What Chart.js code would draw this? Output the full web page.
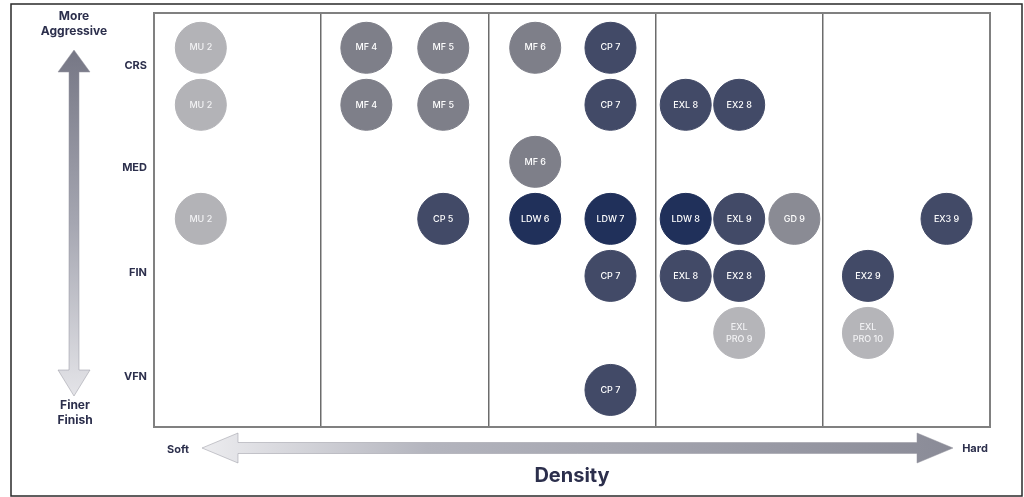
<!DOCTYPE html>
<html>
<head>
<meta charset="utf-8">
<script src="https://cdn.jsdelivr.net/npm/chart.js@4.4.1/dist/chart.umd.min.js"></script>
<style>
  html, body { margin: 0; padding: 0; background: #fff; }
  #wrap { width: 1024px; height: 497px; }
</style>
</head>
<body>
<div id="wrap"><canvas id="chart" width="1024" height="497"></canvas></div>
<script>
// grit rows (7 = coarsest at the top) and density columns (0..5)
const yTickValues = [6.68, 4.89, 3.05, 1.23];
const yTickLabels = ['CRS', 'MED', 'FIN', 'VFN'];

const names   = ['MU 2', 'MF 4', 'MF 5', 'MF 6', 'CP 7',
                 'MU 2', 'MF 4', 'MF 5', 'CP 7', 'EXL 8', 'EX2 8',
                 'MF 6',
                 'MU 2', 'CP 5', 'LDW 6', 'LDW 7', 'LDW 8', 'EXL 9', 'GD 9', 'EX3 9',
                 'CP 7', 'EXL 8', 'EX2 8', 'EX2 9',
                 'EXL\nPRO 9', 'EXL\nPRO 10',
                 'CP 7'];
const density = [0.28, 1.27, 1.73, 2.28, 2.73,
                 0.28, 1.27, 1.73, 2.73, 3.18, 3.50,
                 2.28,
                 0.28, 1.73, 2.28, 2.73, 3.18, 3.50, 3.83, 4.74,
                 2.73, 3.18, 3.50, 4.27,
                 3.50, 4.27,
                 2.73];
const grit    = [7, 7, 7, 7, 7,
                 6, 6, 6, 6, 6, 6,
                 5,
                 4, 4, 4, 4, 4, 4, 4, 4,
                 3, 3, 3, 3,
                 2, 2,
                 1];
const family  = ['MU', 'MF', 'MF', 'MF', 'CP',
                 'MU', 'MF', 'MF', 'CP', 'CP', 'CP',
                 'MF',
                 'MU', 'CP', 'LDW', 'LDW', 'LDW', 'CP', 'GD', 'CP',
                 'CP', 'CP', 'CP', 'CP',
                 'PRO', 'PRO',
                 'CP'];

const families = ['MU', 'MF', 'GD', 'CP', 'LDW', 'PRO'];
const familyColors = {
    MU: '#b3b3b7',
    MF: '#7e7f89',
    GD: '#8a8b94',
    CP: '#424a67',
    LDW: '#20305a',
    PRO: '#b5b5b9',
};

const datasets = families.map(f => {
    const pts = [];
    const labels = [];
    names.forEach((n, i) => {
        if (family[i] !== f) return;
        pts.push({ x: density[i], y: grit[i] });
        labels.push(n);
    });
    return {
        label: f,
        data: pts,
        bubbleLabels: labels,
        backgroundColor: familyColors[f],
        borderColor: familyColors[f],
        borderWidth: 1,
        pointRadius: 25.5,
        pointHoverRadius: 25.5,
        clip: false,
    };
});

const inkColor = '#2c2f4c';
const fontFam = "Inter, 'Noto Sans', sans-serif";

// text inside each circle
const bubbleText = {
    id: 'bubbleText',
    afterDatasetsDraw(chart) {
        const ctx = chart.ctx;
        ctx.save();
        ctx.textAlign = 'center';
        ctx.textBaseline = 'middle';
        ctx.font = `500 9px ${fontFam}`;
        chart.data.datasets.forEach((ds, di) => {
            const meta = chart.getDatasetMeta(di);
            meta.data.forEach((pt, j) => {
                const lines = ds.bubbleLabels[j].split('\n');
                ctx.fillStyle = (ds.label === 'MU' || ds.label === 'PRO') ? '#f2f2f4' : '#ffffff';
                const lh = 12;
                lines.forEach((ln, k) => {
                    ctx.fillText(ln, pt.x, pt.y + (k - (lines.length - 1) / 2) * lh);
                });
            });
        });
        ctx.restore();
    },
};

// plot frame, outer border, arrows and axis words
const decorations = {
    id: 'decorations',
    beforeDraw(chart) {
        const ctx = chart.ctx;
        ctx.save();
        ctx.fillStyle = '#fff';
        ctx.fillRect(0, 0, chart.width, chart.height);
        ctx.restore();
    },
    afterDraw(chart) {
        const ctx = chart.ctx;
        const a = chart.chartArea;
        ctx.save();

        ctx.strokeStyle = '#808080';
        ctx.lineWidth = 2;
        ctx.strokeRect(a.left, a.top, a.right - a.left, a.bottom - a.top);

        ctx.strokeStyle = '#2a2a2a';
        ctx.lineWidth = 1.5;
        ctx.strokeRect(11, 4, 1011, 492);

        // vertical arrow
        const vx = 74;
        let g = ctx.createLinearGradient(0, 50, 0, 396);
        g.addColorStop(0, '#767785');
        g.addColorStop(0.5, '#a5a6b1');
        g.addColorStop(1, '#e4e4e8');
        ctx.fillStyle = g;
        ctx.beginPath();
        ctx.moveTo(vx, 50);
        ctx.lineTo(vx + 16, 72);
        ctx.lineTo(vx + 5, 72);
        ctx.lineTo(vx + 5, 370);
        ctx.lineTo(vx + 16, 370);
        ctx.lineTo(vx, 396);
        ctx.lineTo(vx - 16, 370);
        ctx.lineTo(vx - 5, 370);
        ctx.lineTo(vx - 5, 72);
        ctx.lineTo(vx - 16, 72);
        ctx.closePath();
        ctx.fill();
        ctx.strokeStyle = 'rgba(150,150,160,0.5)';
        ctx.lineWidth = 1;
        ctx.stroke();

        // horizontal arrow
        const hy = 448;
        g = ctx.createLinearGradient(202, 0, 953, 0);
        g.addColorStop(0, '#ececef');
        g.addColorStop(0.3, '#b4b5be');
        g.addColorStop(1, '#8a8b97');
        ctx.fillStyle = g;
        ctx.beginPath();
        ctx.moveTo(202, hy);
        ctx.lineTo(238, hy - 15);
        ctx.lineTo(238, hy - 5.5);
        ctx.lineTo(917, hy - 5.5);
        ctx.lineTo(917, hy - 15);
        ctx.lineTo(953, hy);
        ctx.lineTo(917, hy + 15);
        ctx.lineTo(917, hy + 5.5);
        ctx.lineTo(238, hy + 5.5);
        ctx.lineTo(238, hy + 15);
        ctx.closePath();
        ctx.fill();
        ctx.stroke();

        ctx.fillStyle = inkColor;
        ctx.textAlign = 'center';
        ctx.textBaseline = 'middle';
        ctx.font = `700 12px ${fontFam}`;
        ctx.fillText('More', 74, 16);
        ctx.fillText('Aggressive', 74, 31);
        ctx.fillText('Finer', 75, 405);
        ctx.fillText('Finish', 75, 420);
        ctx.font = `700 11px ${fontFam}`;
        ctx.fillText('Soft', 178, 450);
        ctx.fillText('Hard', 975, 449);
        ctx.font = `700 20px ${fontFam}`;
        ctx.fillText('Density', 572, 476);
        ctx.restore();
    },
};

new Chart(document.getElementById('chart'), {
    type: 'scatter',
    data: { datasets },
    options: {
        responsive: false,
        animation: false,
        events: [],
        layout: { autoPadding: false, padding: { top: 13, right: 34, bottom: 70, left: 0 } },
        plugins: {
            legend: { display: false },
            tooltip: { enabled: false },
        },
        scales: {
            x: {
                type: 'linear',
                min: 0,
                max: 5,
                ticks: { display: false, stepSize: 1 },
                grid: { color: '#6c6c6c', lineWidth: 1.5, drawTicks: false },
                border: { display: false },
                afterFit: s => { s.height = 0; s.paddingLeft = 0; s.paddingRight = 0; },
            },
            y: {
                type: 'linear',
                min: 0.35,
                max: 7.61,
                afterBuildTicks: s => { s.ticks = yTickValues.map(v => ({ value: v })); },
                ticks: {
                    autoSkip: false,
                    padding: 7,
                    color: inkColor,
                    font: { family: fontFam, size: 11, weight: '700' },
                    callback: (v, i) => yTickLabels[i],
                },
                grid: { display: false, drawTicks: false },
                border: { display: false },
                afterFit: s => { s.width = 154; s.paddingTop = 0; s.paddingBottom = 0; },
            },
        },
    },
    plugins: [decorations, bubbleText],
});
</script>
</body>
</html>
